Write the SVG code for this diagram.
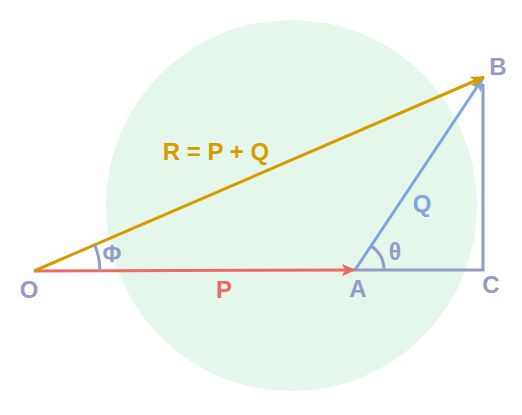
<svg xmlns="http://www.w3.org/2000/svg" width="522" height="415" viewBox="0 0 522 415">
<style>
.lbl{font-family:"Liberation Sans",Arial,sans-serif;font-weight:bold;font-size:24px;text-anchor:middle;dominant-baseline:central;fill:#949bc4}
.ln{fill:none;stroke-width:3;stroke-linecap:butt}
</style>
<defs>
<marker id="arOr" viewBox="0 0 14 12" refX="13" refY="6" markerWidth="14" markerHeight="12" markerUnits="userSpaceOnUse" orient="auto"><path d="M0,0 L14,6 L0,12 L3,6 Z" fill="#d79b00"/></marker>
<marker id="arRd" viewBox="0 0 14 12" refX="13" refY="6" markerWidth="14" markerHeight="12" markerUnits="userSpaceOnUse" orient="auto"><path d="M0,0 L14,6 L0,12 L3,6 Z" fill="#ea6b66"/></marker>
<marker id="arBl" viewBox="0 0 14 12" refX="13" refY="6" markerWidth="14" markerHeight="12" markerUnits="userSpaceOnUse" orient="auto"><path d="M0,0 L14,6 L0,12 L3,6 Z" fill="#7ea6e0"/></marker>
</defs>
<g id="circle"><circle cx="291.5" cy="205.5" r="185.5" fill="#e5f6ea"/></g>
<g id="connectors">
<path class="ln" d="M355,270 L483,270 L483,84" stroke="#949bc4"/>
<path class="ln" d="M355,270 L483,78" stroke="#7ea6e0" marker-end="url(#arBl)"/>
<path class="ln" d="M34,271 L355,270" stroke="#ea6b66" marker-end="url(#arRd)"/>
<path class="ln" d="M34,271 L484,77" stroke="#d79b00" marker-end="url(#arOr)"/>
<path class="ln" d="M100,271 A66,66 0 0 0 94.6,244.8" stroke="#949bc4"/>
<path class="ln" d="M384,270 A29,29 0 0 0 371.1,245.9" stroke="#949bc4"/>
</g>
<g id="labels">
<text id="O" class="lbl" x="29" y="289">O</text>
<text id="A" class="lbl" x="358" y="288">A</text>
<text id="C" class="lbl" x="491" y="284">C</text>
<text id="B" class="lbl" x="498" y="66">B</text>
<text id="P" class="lbl" x="224" y="289" style="fill:#ea6b66">P</text>
<text id="Q" class="lbl" x="422" y="203" style="fill:#7ea6e0">Q</text>
<text id="theta" class="lbl" x="395" y="252" style="font-size:23px">θ</text>
<text id="phi" class="lbl" x="112" y="254" style="font-size:23px">Φ</text>
<text id="R" class="lbl" x="216" y="151" style="fill:#d79b00">R = P + Q</text>
</g>
</svg>
